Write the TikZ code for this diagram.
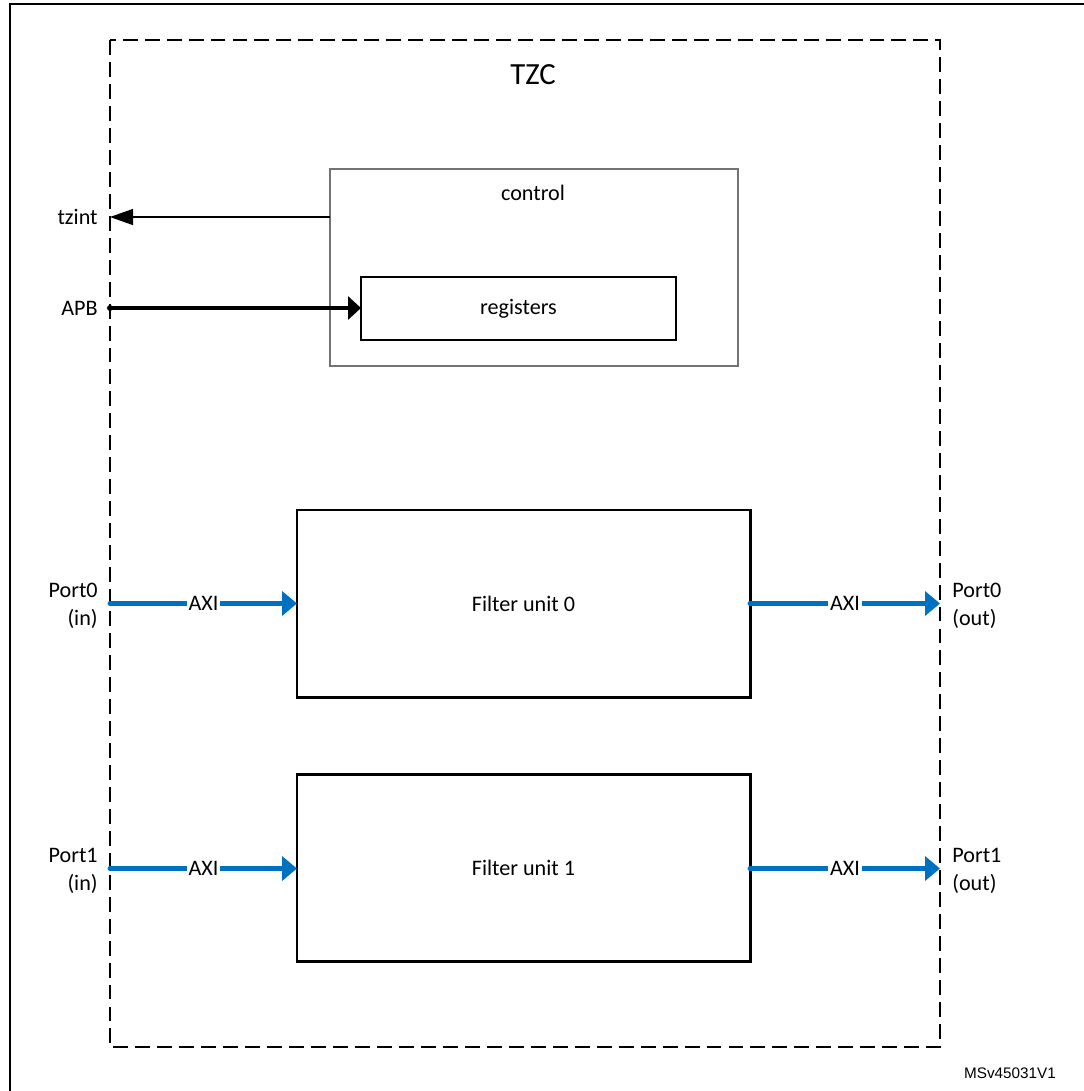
\documentclass[tikz,border=0pt]{standalone}
\usepackage{fontspec}
\setmainfont{Carlito}
\newfontfamily\arialfont{Liberation Sans}
\usetikzlibrary{arrows.meta}
\definecolor{axiblue}{RGB}{0,112,192}

\begin{document}
\begin{tikzpicture}[
	txt/.style={font=\fontsize{12.6}{16}\selectfont, inner sep=0pt},
	unit/.style={draw, line width=1.7pt, anchor=north west, inner sep=0pt, outer sep=0pt,
		minimum width=9.06cm, minimum height=3.74cm, txt},
	axi/.style={axiblue, line width=2.8pt, line cap=round,
		-{Triangle[length=0.3cm, width=0.48cm]}},
	axilbl/.style={txt, fill=white, inner sep=1pt, text=black}]
\useasboundingbox (0,0) rectangle (21.68,-21.82);
\draw [line width=1.7pt] (0.2,-21.82) to (0.2,-0.08) to (21.68,-0.08);
\draw [dash pattern=on 8.5pt off 4pt, line width=1.1pt] (2.2,-0.8) rectangle (18.8,-20.94);
\node [font=\fontsize{17.5}{20}\selectfont] (tzc) at (10.66,-1.5) {TZC};

% control block
\node [draw=black!55, line width=0.8pt, anchor=north west, inner sep=0pt, outer sep=0pt,
	minimum width=8.16cm, minimum height=3.94cm] (ctrl) at (6.6,-3.38) {};
\node [txt] (ctrllbl) at (10.66,-3.86) {control};
\node [draw, line width=1pt, anchor=north west, inner sep=0pt, outer sep=0pt, txt,
	minimum width=6.3cm, minimum height=1.26cm] (regs) at (7.22,-5.54) {registers};

\coordinate (tzout) at (2.2,-4.34);
\coordinate (apbin) at (2.2,-6.16);
\node [txt, anchor=east] (tzintlbl) at (1.96,-4.34) {tzint};
\node [txt, anchor=east] (apblbl) at (1.96,-6.16) {APB};
\draw [line width=0.7pt, -{Triangle[length=0.46cm, width=0.32cm]}]
	(ctrl.west |- tzout) to (tzout);
\fill (apbin) circle (0.06);
\draw [line width=2.3pt, -{Triangle[length=0.26cm, width=0.46cm]}]
	(apbin) to (regs.west |- apbin);

% filter units
\node [unit] (fu0) at (5.94,-10.2) {Filter unit 0};
\node [unit] (fu1) at (5.94,-15.48) {Filter unit 1};

\coordinate (p0in) at (2.2,-12.07);
\coordinate (p0out) at (18.8,-12.07);
\coordinate (p1in) at (2.2,-17.37);
\coordinate (p1out) at (18.8,-17.37);
\draw [axi] (p0in) to node [axilbl] {AXI} (fu0.west |- p0in);
\draw [axi] (fu0.east |- p0out) to node [axilbl] {AXI} (p0out);
\draw [axi] (p1in) to node [axilbl] {AXI} (fu1.west |- p1in);
\draw [axi] (fu1.east |- p1out) to node [axilbl] {AXI} (p1out);

\node [txt, align=right, anchor=east] (p0inlbl) at (1.96,-12.12) {Port0\\(in)};
\node [txt, align=left, anchor=west] (p0outlbl) at (19.04,-12.12) {Port0\\(out)};
\node [txt, align=right, anchor=east] (p1inlbl) at (1.96,-17.42) {Port1\\(in)};
\node [txt, align=left, anchor=west] (p1outlbl) at (19.04,-17.42) {Port1\\(out)};

\node [font=\arialfont\fontsize{8.7}{10}\selectfont] (ref) at (20.2,-21.46) {MSv45031V1};
\end{tikzpicture}
\end{document}
